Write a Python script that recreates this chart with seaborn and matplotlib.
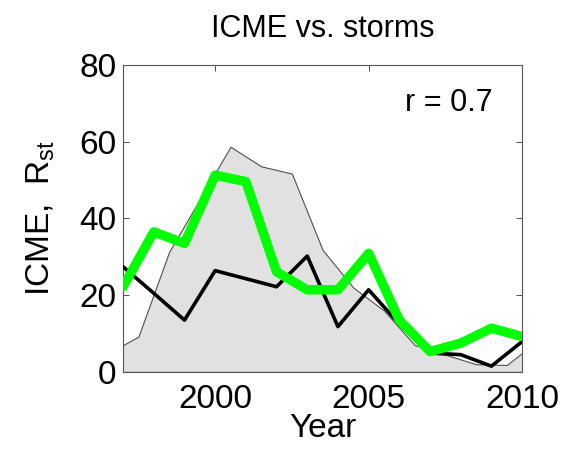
import numpy as np
import pandas as pd
import matplotlib
matplotlib.use("Agg")
import matplotlib.pyplot as plt
import seaborn as sns

# Annual values
years = [1997, 1998, 1999, 2000, 2001, 2002, 2003, 2004, 2005, 2006, 2007, 2008, 2009, 2010]
icme = [27.4, 20.5, 13.5, 26.4, 24.3, 22.2, 30.2, 11.8, 21.4, 12.5, 4.9, 4.5, 1.5, 7.9]
storms = [22.2, 36.5, 33.5, 51.3, 49.6, 26.1, 21.4, 21.4, 30.9, 13.5, 5.3, 7.5, 11.4, 9.2]

# Scaled sunspot number, mid-year samples
ssn_years = [1996.5, 1997.5, 1998.5, 1999.5, 2000.5, 2001.5, 2002.5, 2003.5,
             2004.5, 2005.5, 2006.5, 2007.5, 2008.5, 2009.5, 2010.5]
ssn = [4.8, 9.2, 31.3, 45.0, 58.7, 53.6, 51.7, 31.8, 22.0, 16.0, 7.0, 4.5, 2.0, 1.8, 8.0]

r_text = "r = 0.7"

sns.set_theme(style="white")
plt.rcParams["font.family"] = ["Liberation Sans", "DejaVu Sans"]
plt.rcParams["mathtext.default"] = "regular"
plt.rcParams["text.color"] = "black"
plt.rcParams["axes.labelcolor"] = "black"

fig = plt.figure(figsize=(5.62, 4.58), dpi=100)
ax = fig.add_axes([0.219, 0.188, 0.710, 0.670])

ax.fill_between(ssn_years, ssn, 0, facecolor="#e1e1e1", edgecolor="#505050",
                linewidth=0.8, zorder=1)

df = pd.DataFrame({"Year": years, "ICME": icme, "Storms": storms})
sns.lineplot(data=df, x="Year", y="ICME", ax=ax, color="black", linewidth=2.6, zorder=3)
sns.lineplot(data=df, x="Year", y="Storms", ax=ax, color="#00ff00", linewidth=6.8,
             zorder=4)

ax.set_xlim(1997, 2010)
ax.set_ylim(0, 80)
ax.set_xticks([2000, 2005, 2010])
ax.set_yticks([0, 20, 40, 60, 80])

ax.tick_params(axis="both", which="both", direction="in", length=4, width=0.6,
               colors="#333333", labelcolor="black", labelsize=24,
               top=True, right=True, bottom=True, left=True)
ax.tick_params(axis="x", pad=9)
ax.tick_params(axis="y", pad=5)
for sp in ax.spines.values():
    sp.set_visible(True)
    sp.set_color("#555555")
    sp.set_linewidth(0.8)

ax.set_title("ICME vs. storms", fontsize=22, pad=20, color="black")
ax.set_xlabel("Year", fontsize=24, labelpad=-2, color="black")
ax.set_ylabel("ICME,  R$_{st}$", fontsize=24, labelpad=16, color="black")
ax.text(2009.05, 70, r_text, fontsize=22, ha="right", va="center", color="black",
        zorder=5)

fig.savefig("out.png", dpi=100, facecolor="white")
